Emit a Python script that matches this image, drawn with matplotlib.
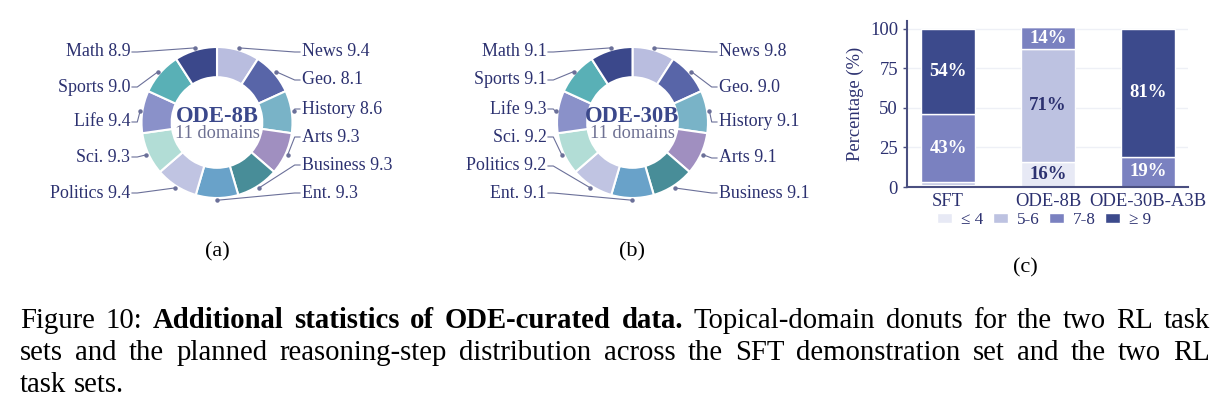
import matplotlib
matplotlib.use("Agg")
import matplotlib.pyplot as plt
import numpy as np

plt.rcParams["font.family"] = ["Liberation Serif", "DejaVu Serif"]

W, H = 1222, 417

# donut data (clockwise from 12 o'clock)
domains = ["News", "Geo.", "History", "Arts", "Business", "Ent.",
           "Politics", "Sci.", "Life", "Sports", "Math"]
shares = [9.1, 9.1, 9.1, 9.1, 9.1, 9.1, 9.1, 9.1, 9.1, 9.1, 9.1]
scores_8b = [9.4, 8.1, 8.6, 9.3, 9.3, 9.3, 9.4, 9.3, 9.4, 9.0, 8.9]
scores_30b = [9.8, 9.0, 9.1, 9.1, 9.1, 9.1, 9.2, 9.2, 9.3, 9.1, 9.1]
donut_colors = ["#b9bddf", "#5865a8", "#79b3c7", "#a08fc0", "#488d98", "#69a2c9",
                "#c0c4e2", "#b2ddd6", "#8a91c9", "#59b0b6", "#3b488b"]

# step distribution (%)
sets = ["SFT", "ODE-8B", "ODE-30B-A3B"]
step_bins = ["≤ 4", "5-6", "7-8", "≥ 9"]
le4 = [1, 16, 0]
s56 = [2, 71, 0]
s78 = [43, 14, 19]
ge9 = [54, 0, 81]
bar_colors = ["#e7e9f5", "#bdc2e1", "#7a81c0", "#3c4a8c"]

NAVY = "#2c3170"
LINE = "#6b7099"

fig = plt.figure(figsize=(W / 100, H / 100), dpi=100)


def px_axes(x0, y0, w, h):
    return fig.add_axes([x0 / W, 1 - (y0 + h) / H, w / W, h / H])


def donut(cx, cy, scores, name, right_ys, left_ys, rx, lx):
    R = 75.5
    aw, ah = 400, 200
    ax = px_axes(cx - aw / 2, cy - ah / 2, aw, ah)
    wedges, _ = ax.pie(shares, colors=donut_colors, startangle=90, counterclock=False,
                       wedgeprops=dict(width=0.4, edgecolor="white", linewidth=1.5))
    ax.set_xlim(-aw / 2 / R, aw / 2 / R)
    ax.set_ylim(-ah / 2 / R, ah / 2 / R)
    ax.axis("off")
    n_right = len(right_ys)
    for i, w in enumerate(wedges):
        ang = np.deg2rad((w.theta1 + w.theta2) / 2)
        dx, dy = 1.03 * np.cos(ang), 1.03 * np.sin(ang)
        if i < n_right:
            ty = -(right_ys[i] - cy) / R
            tx = (rx - cx) / R
            knee = tx - 0.07
            ha = "left"
            tx_text = tx + 0.02
        else:
            j = len(wedges) - 1 - i
            ty = -(left_ys[j] - cy) / R
            tx = (lx - cx) / R
            knee = tx + 0.07
            ha = "right"
            tx_text = tx - 0.02
        ax.plot([dx, knee, tx], [dy, ty, ty], color=LINE, lw=0.8)
        ax.plot(dx, dy, "o", color=LINE, ms=2.2)
        ax.text(tx_text, ty, f"{domains[i]} {scores[i]:.1f}", ha=ha, va="center",
                fontsize=12.9, color=NAVY)
    ax.text(0, 0.08, name, ha="center", va="center", fontsize=16.3,
            fontweight="bold", color="#3b488b")
    ax.text(0, -0.15, "11 domains", ha="center", va="center", fontsize=13.2,
            color="#6e7193")


donut(217, 122.5, scores_8b, "ODE-8B",
      [52, 80, 109, 137, 165, 193], [52, 87, 122, 157, 193], 300, 132)
donut(632.5, 122.5, scores_30b, "ODE-30B",
      [52, 87, 122, 158, 193], [52, 80, 109, 137, 166, 193], 717, 548)

# stacked bar chart
ax = px_axes(907, 21, 281, 166)
x = np.arange(len(sets))
bottom = np.zeros(len(sets))
series = [le4, s56, s78, ge9]
txt_colors = [NAVY, NAVY, "white", "white"]
for vals, col, lab, tc in zip(series, bar_colors, step_bins, txt_colors):
    vals = np.array(vals, dtype=float)
    ax.bar(x, vals, 0.54, bottom=bottom, color=col, edgecolor="white",
           linewidth=1.0, label=lab, zorder=2)
    for xi, v, b in zip(x, vals, bottom):
        if v >= 10:
            ax.text(xi, b + v / 2, f"{v:.0f}%", ha="center", va="center",
                    fontsize=13.5, fontweight="bold", color=tc, zorder=3)
    bottom += vals
ax.set_xlim(-0.41, 2.4)
ax.set_ylim(0, 105)
ax.set_yticks([0, 25, 50, 75, 100])
ax.set_xticks(x)
ax.set_xticklabels(sets)
ax.tick_params(axis="both", colors="#4a4f80", labelcolor=NAVY, labelsize=13.4,
               length=3, width=1)
ax.tick_params(axis="x", length=0, pad=4)
ax.set_ylabel("Percentage (%)", fontsize=13.4, color=NAVY, labelpad=4)
ax.yaxis.grid(True, color="#eef0f6", lw=1, zorder=0)
for s in ["top", "right"]:
    ax.spines[s].set_visible(False)
for s in ["left", "bottom"]:
    ax.spines[s].set_color("#4a4f80")
    ax.spines[s].set_linewidth(1.5)
ax.legend(loc="center", bbox_to_anchor=(1044 / W, 1 - 220 / H),
          bbox_transform=fig.transFigure, ncol=4, frameon=False, fontsize=12.3,
          handlelength=0.9, handleheight=0.6, handletextpad=0.5,
          columnspacing=0.55, labelcolor=NAVY, borderpad=0)

# panel labels
for lbl, px_, py_ in [("(a)", 217, 252), ("(b)", 632, 252), ("(c)", 1025, 268)]:
    fig.text(px_ / W, 1 - py_ / H, lbl, ha="center", va="center", fontsize=16)

# caption, justified word by word
renderer = fig.canvas.get_renderer()
caption = [
    [("Figure 10:", "normal"), ("Additional statistics of ODE-curated data.", "bold"),
     ("Topical-domain donuts for the two RL task", "normal")],
    [("sets and the planned reasoning-step distribution across the SFT demonstration set "
      "and the two RL", "normal")],
    [("task sets.", "normal")],
]
baselines = [328, 360, 392]
left, right = 20, 1210
fs = 20.7
space = fig.text(0, 0, "a a", fontsize=fs)
sp_w = space.get_window_extent(renderer).width - 2 * fig.text(
    0, 0, "a", fontsize=fs).get_window_extent(renderer).width
for t in fig.texts[-2:]:
    t.remove()
for li, (line, yb) in enumerate(zip(caption, baselines)):
    words = []
    for chunk, wt in line:
        for wd in chunk.split():
            words.append((wd, wt))
    objs = [fig.text(0, 1 - yb / H, wd, fontsize=fs, fontweight=wt, va="baseline",
                     color="black") for wd, wt in words]
    widths = [o.get_window_extent(renderer).width for o in objs]
    if li < len(caption) - 1:
        gap = (right - left - sum(widths)) / (len(objs) - 1)
    else:
        gap = sp_w
    xpos = left
    for o, wdt in zip(objs, widths):
        o.set_x(xpos / W)
        xpos += wdt + gap

fig.savefig("out.png", dpi=100)
